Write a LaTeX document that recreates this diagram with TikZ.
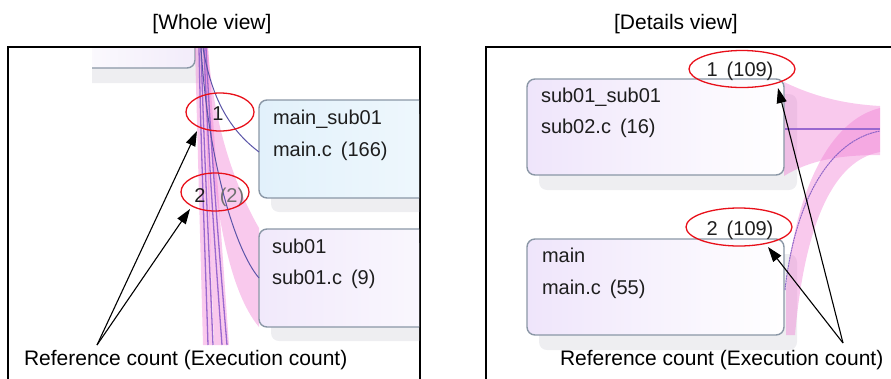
\documentclass[tikz,border=0pt]{standalone}
\usepackage{fontspec}
\setmainfont{Liberation Sans}
\usetikzlibrary{arrows.meta,shapes.geometric}
\definecolor{boxline}{HTML}{8A97A6}
\definecolor{shadowgray}{HTML}{EEEEF1}
\definecolor{bandpink}{HTML}{F078D2}
\definecolor{linepurple}{HTML}{9A68CF}
\definecolor{thinpurple}{HTML}{5B55A8}
\definecolor{ringred}{HTML}{E8101A}
\definecolor{txtgray}{HTML}{1E1E1E}
\definecolor{countgray}{HTML}{707070}
\definecolor{blueL}{HTML}{E2F1FB}
\definecolor{blueR}{HTML}{F0F8FD}
\definecolor{lavL}{HTML}{F1E9FB}
\definecolor{lavR}{HTML}{FBF9FE}
\definecolor{detL}{HTML}{EFE5FB}
\definecolor{topR}{HTML}{F2ECFA}
\begin{document}
\begin{tikzpicture}[x=1pt,y=-1pt,
  every node/.style={inner sep=0pt, outer sep=0pt},
  title/.style={font=\fontsize{21}{25}\selectfont, text=black, anchor=base},
  boxtxt/.style={font=\fontsize{20}{24}\selectfont, text=txtgray, anchor=base west},
  cnt/.style={font=\fontsize{20}{24}\selectfont, text=txtgray, anchor=base},
  legend/.style={font=\fontsize{21}{25}\selectfont, text=black, anchor=base west},
  redring/.style={ellipse, draw=ringred, line width=1.3pt},
  shadowbox/.style={fill=shadowgray, rounded corners=8pt},
  callbox/.style={draw=boxline, line width=1.4pt, rounded corners=8pt, anchor=north west},
  band/.style={fill=bandpink, fill opacity=0.4},
  calline/.style={draw=linepurple, line width=1.3pt},
  thinline/.style={draw=thinpurple, line width=1pt},
  pointer/.style={-{Triangle[length=15pt,width=10pt]}, line width=1.1pt},
  frame/.style={line width=2pt}
]
\useasboundingbox (0,0) rectangle (891,378);

% titles
\node[title] (t1) at (212,29) {[Whole view]};
\node[title] (t2) at (676,29) {[Details view]};

% frames
\draw[frame] (8,380) -- (8,47) -- (420,47) -- (420,380);
\draw[frame] (486,380) -- (486,47) -- (893,47);

% ---------------- left panel ----------------
\begin{scope}
\clip (9,48) rectangle (419,345);
\begin{scope}
\clip (92,48) rectangle (419,345);
\fill[shadowbox] (52,15) rectangle (207,83);
\draw[draw=boxline, line width=1.4pt, rounded corners=8pt, left color=white, right color=topR] (40,0) rectangle (195,68);
\end{scope}
\fill[shadowbox] (271,114) rectangle (456,212);
\fill[shadowbox] (271,243) rectangle (456,341);
% pink bands
\fill[band] (195,48) -- (206,48) -- (213,345) -- (203,345) -- cycle;
\fill[band] (203,48) -- (208,48) -- (229,345) -- (214,345) -- cycle;
\fill[band] (205,48) -- (208,48) .. controls (214,130) and (237,190) .. (259,228)
  -- (259,327) .. controls (228,290) and (210,200) .. (205,48) -- cycle;
% bundle of calls
\draw[calline] (199,48) .. controls (201,150) and (205,250) .. (208,345);
\draw[calline] (201,48) .. controls (204,150) and (209,250) .. (213,345);
\draw[calline] (204,48) .. controls (208,150) and (215,250) .. (222,345);
\draw[calline] (206,48) .. controls (211,150) and (219,250) .. (227,345);
% boxes
\node[callbox, left color=blueL, right color=blueR, minimum width=185pt, minimum height=98pt] (b1) at (259,100) {};
\node[callbox, left color=lavL, right color=lavR, minimum width=185pt, minimum height=98pt] (b2) at (259,229) {};
\coordinate (b1in) at (259,152);
\coordinate (b2in) at (259,278);
\coordinate (ltop) at (203,48);
\coordinate (ltop2) at (201,48);
\draw[thinline] (ltop) .. controls (212,100) and (230,130) .. (b1in);
\draw[thinline] (ltop2) .. controls (208,160) and (235,250) .. (b2in);
\end{scope}
\node[boxtxt] (b1a) at (273,124) {main\_sub01};
\node[boxtxt] (b1b) at (273,156) {main.c\hspace{9pt}(166)};
\node[boxtxt] (b2a) at (272,253) {sub01};
\node[boxtxt] (b2b) at (272,284) {sub01.c\hspace{9pt}(9)};

% counts and rings, left
\node[cnt] (c1) at (218,120) {1};
\node[cnt] (c2a) at (200,202) {2};
\node[cnt, text=countgray] (c2b) at (232,202) {(2)};
\node[redring, minimum width=68pt, minimum height=38pt] (e1) at (220,112) {};
\node[redring, minimum width=68pt, minimum height=38pt] (e2) at (215,192) {};

% legend left
\node[legend] (lg1) at (24,365) {Reference count (Execution count)};
\coordinate (s1) at (97,345);
\coordinate (a1) at (197,131);
\coordinate (a2) at (190,209);
\draw[pointer] (s1) -- (a1);
\draw[pointer] (s1) -- (a2);

% ---------------- right panel ----------------
\begin{scope}
\clip (487,48) rectangle (880,350);
\fill[shadowbox] (539,94) rectangle (797,190);
\fill[shadowbox] (539,254) rectangle (797,350);
\fill[band] (784,82) .. controls (815,97) and (845,104) .. (880,106) -- (880,155)
  .. controls (840,155) and (810,160) .. (784,176) -- cycle;
\fill[band] (786,290) .. controls (795,190) and (830,120) .. (880,108) -- (880,152)
  .. controls (835,160) and (805,220) .. (795,335) -- (786,335) -- cycle;
\node[callbox, left color=detL, right color=white, minimum width=257pt, minimum height=96pt] (d1) at (527,79) {};
\node[callbox, left color=detL, right color=white, minimum width=257pt, minimum height=96pt] (d2) at (527,239) {};
\coordinate (rr1) at (880,129);
\coordinate (rr2) at (880,131);
\coordinate (d1out) at (785,129);
\coordinate (d2out) at (785,290);
\draw[calline] (d1out) -- (rr1);
\draw[thinline, draw=linepurple!80!thinpurple, dash pattern=on 2pt off 0.6pt] (d2out) .. controls (795,200) and (830,140) .. (rr2);
\end{scope}
\node[boxtxt] (d1a) at (541,102) {sub01\_sub01};
\node[boxtxt] (d1b) at (541,133) {sub02.c\hspace{9pt}(16)};
\node[boxtxt] (d2a) at (542,262) {main};
\node[boxtxt] (d2b) at (542,294) {main.c\hspace{9pt}(55)};

\node[cnt] (c3) at (740,76) {1\hspace{9pt}(109)};
\node[cnt] (c4) at (740,235) {2\hspace{9pt}(109)};
\node[redring, minimum width=106pt, minimum height=37pt] (e3) at (742,69) {};
\node[redring, minimum width=106pt, minimum height=38pt] (e4) at (739,227) {};

\node[legend] (lg2) at (560,365) {Reference count (Execution count)};
\coordinate (s2) at (843,343);
\coordinate (a3) at (778,88);
\coordinate (a4) at (768,247);
\draw[pointer] (s2) -- (a3);
\draw[pointer] (s2) -- (a4);
\end{tikzpicture}
\end{document}
